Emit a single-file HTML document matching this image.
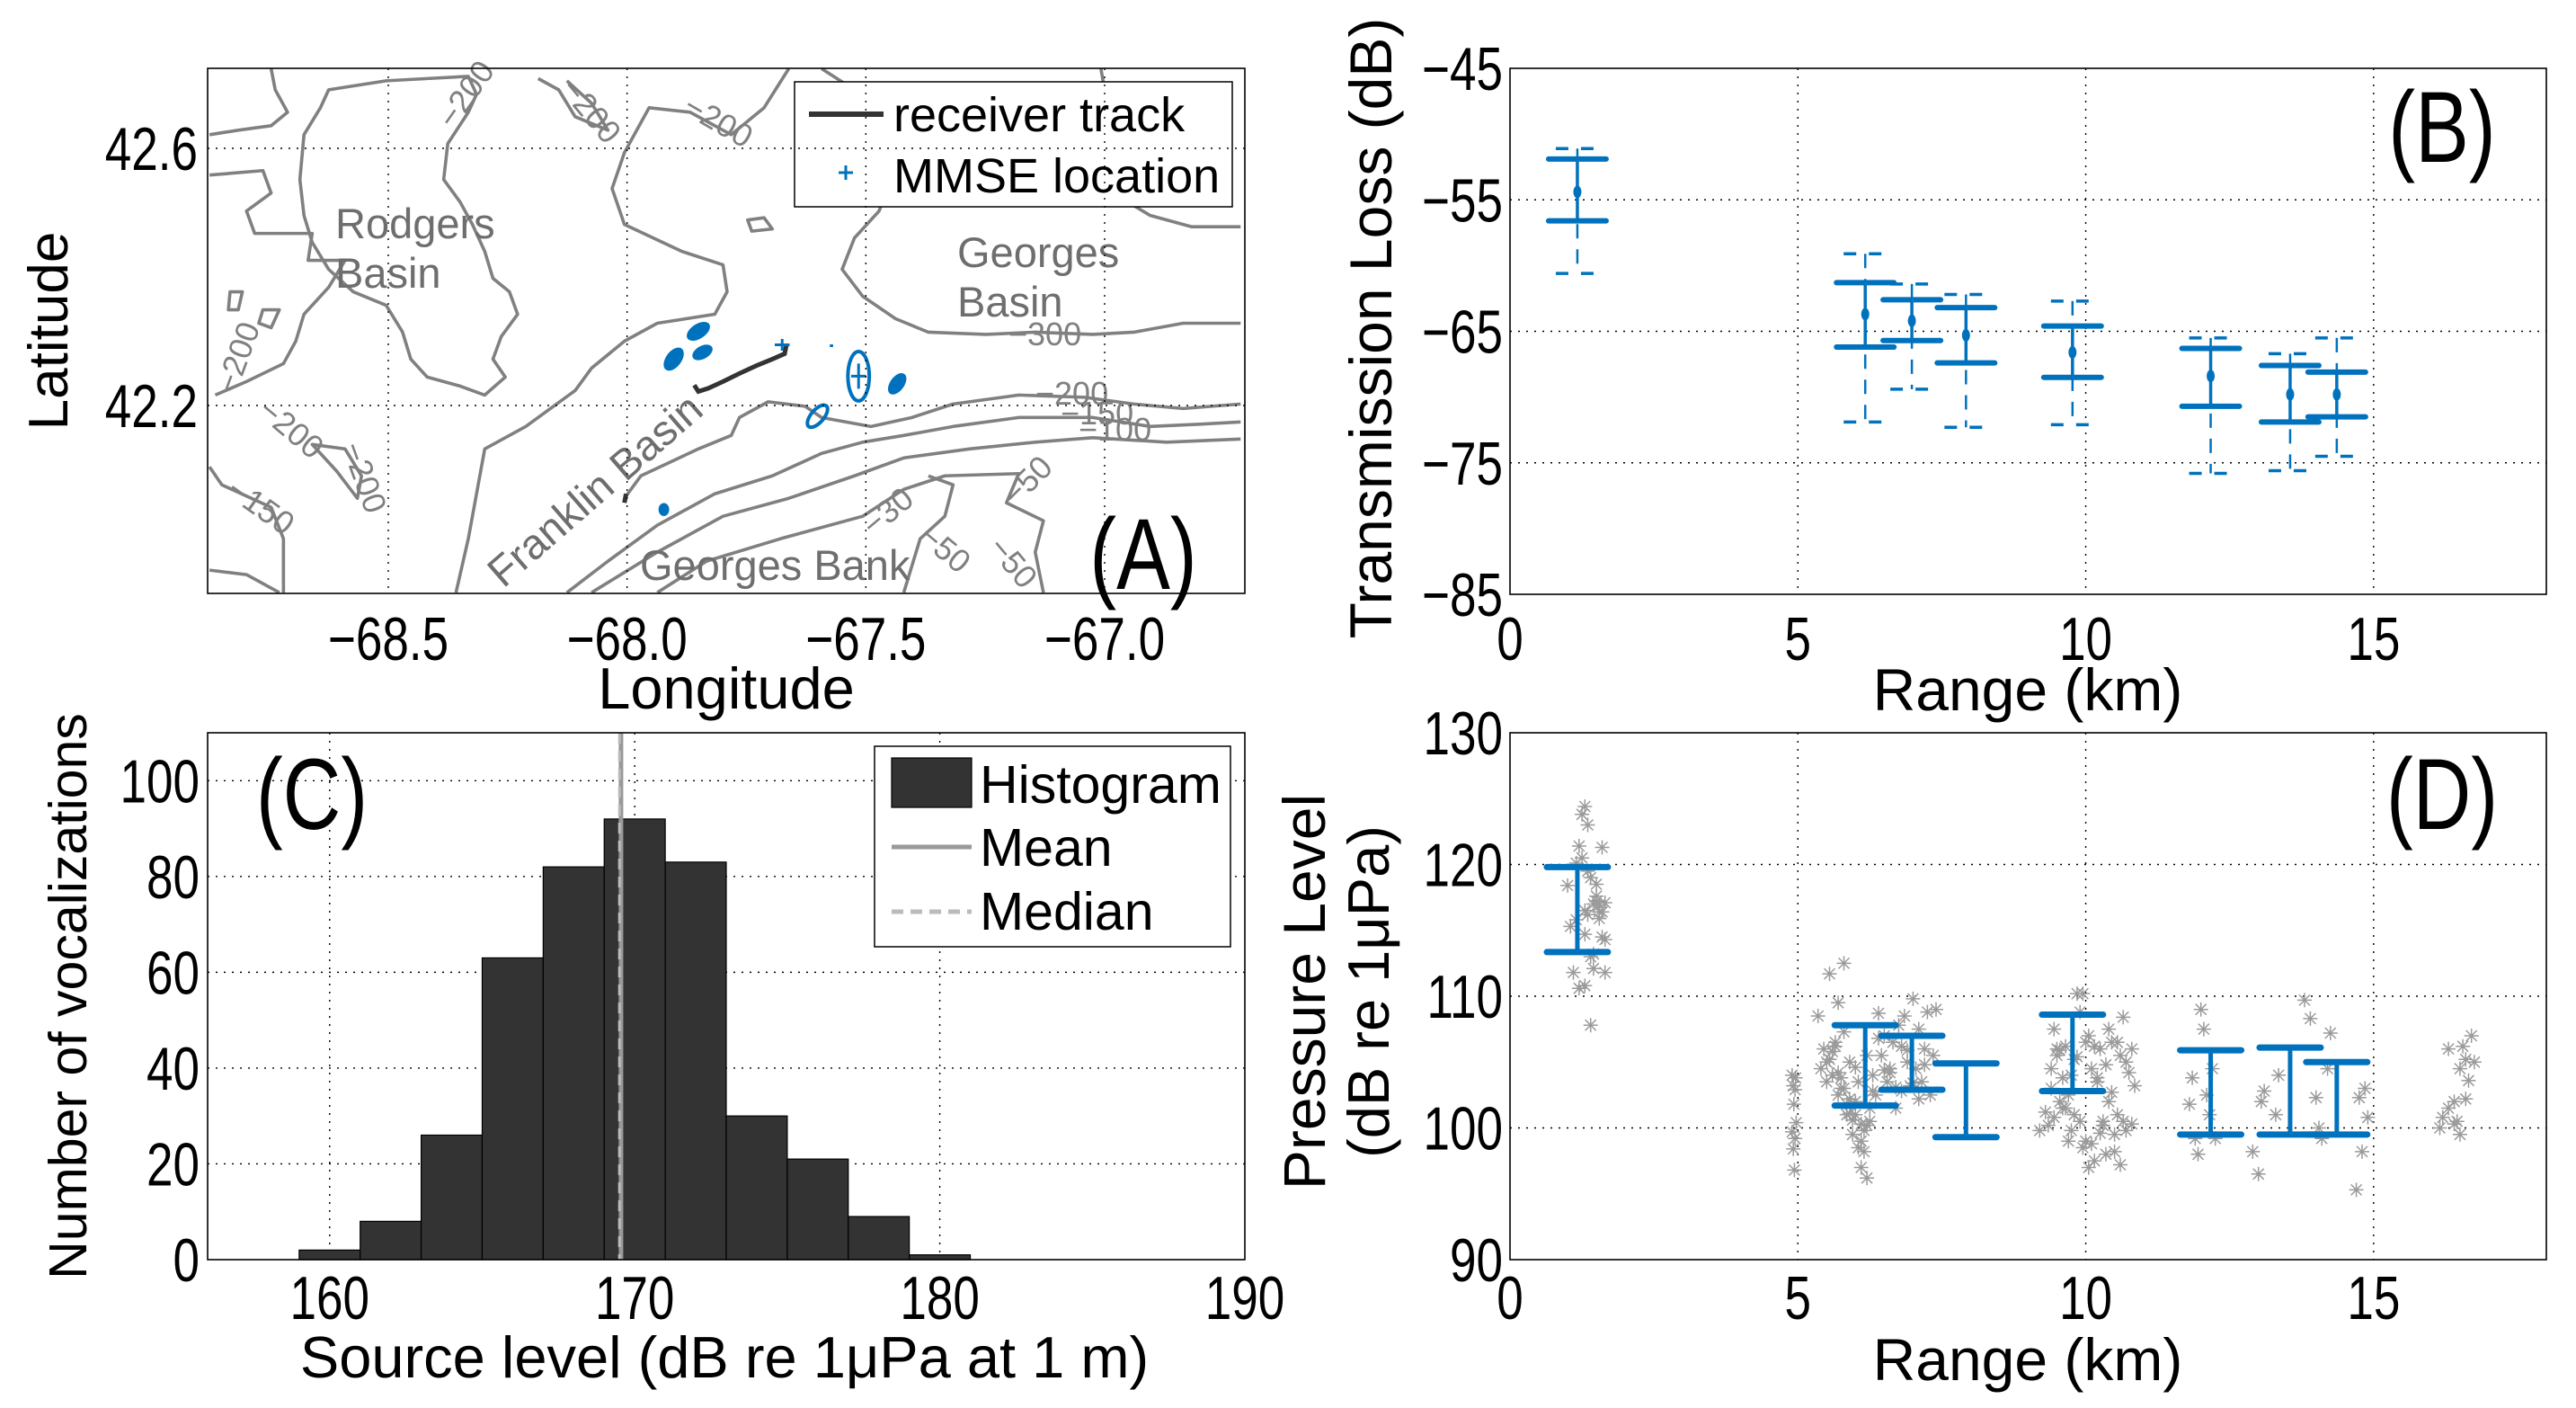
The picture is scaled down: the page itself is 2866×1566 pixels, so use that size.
<!DOCTYPE html>
<html><head><meta charset="utf-8"><title>Figure</title>
<style>html,body{margin:0;padding:0;background:#fff}svg{display:block}text{font-family:"Liberation Sans",sans-serif}</style>
</head><body>
<svg id="fig" xmlns="http://www.w3.org/2000/svg" width="2866" height="1566" viewBox="0 0 2866 1566">
<rect width="2866" height="1566" fill="#fff"/>
<g id="mapPanel">
 <g transform="scale(0.9141,0.4993)" fill="none" stroke="#808080" stroke-width="3.6" stroke-linejoin="round">
  <path vector-effect="non-scaling-stroke" d="M400,200 L470,180 L520,175 L570,170 L580,210 L570,250 L545,320 L540,400 L560,450 L575,500 L590,560 L600,620 L620,650 L630,700 L610,750 L600,800 L615,840 L590,880 L560,860 L520,840 L500,800 L490,740 L470,680 L430,650 L400,600 L380,540 L370,480 L365,400 L370,300 L390,240 Z"/>
  <path vector-effect="non-scaling-stroke" d="M255,390 L320,380 L330,430 L300,470 L310,520 L380,520 L375,580 L420,580 L400,640 L370,700 L360,760 L345,810 L300,850 L262,880"/>
  <path vector-effect="non-scaling-stroke" d="M255,300 L290,290 L330,280 L350,250 L335,200 L330,153"/>
  <path vector-effect="non-scaling-stroke" d="M960,153 L930,240 L890,300 L840,250 L790,240 L760,340 L745,420 L760,500 L830,560 L880,590 L885,650 L870,700 L800,720 L760,760 L720,820 L700,870 L640,950 L590,1000 L580,1100 L570,1200 L555,1320"/>
  <path vector-effect="non-scaling-stroke" d="M1000,153 L1040,200 L1060,280 L1080,350 L1080,420 L1070,470 L1040,530 L1025,600 L1050,660 L1090,710 L1130,740 L1200,745 L1260,740 L1330,745 L1380,740 L1440,720 L1510,720"/>
  <path vector-effect="non-scaling-stroke" d="M760,1110 L780,1060 L850,1000 L890,970 L900,930 L935,895 L980,905 L1000,930 L1030,940 L1060,950 L1110,930 L1160,900 L1240,880 L1320,885 L1380,900 L1440,910 L1510,900"/>
  <path vector-effect="non-scaling-stroke" d="M690,1320 L740,1250 L800,1170 L870,1100 L940,1060 L1000,1010 L1050,985 L1100,970 L1160,950 L1240,930 L1330,930 L1400,950 L1460,945 L1510,940"/>
  <path vector-effect="non-scaling-stroke" d="M720,1320 L800,1230 L880,1150 L960,1110 L1040,1060 L1100,1020 L1180,1000 L1260,985 L1330,975 L1420,985 L1510,978"/>
  <path vector-effect="non-scaling-stroke" d="M800,1320 L860,1250 L950,1200 L1050,1150 L1100,1090 L1150,1060 L1240,1055 L1225,1120 L1270,1160 L1260,1230 L1270,1320"/>
  <path vector-effect="non-scaling-stroke" d="M1130,1060 L1160,1080 L1150,1150 L1120,1200 L1110,1260 L1100,1320"/>
  <path vector-effect="non-scaling-stroke" d="M1340,153 L1350,260 L1380,320 L1500,340"/>
  <path vector-effect="non-scaling-stroke" d="M1345,420 L1400,480 L1450,505 L1510,505"/>
  <path vector-effect="non-scaling-stroke" d="M255,1040 L270,1080 L330,1130 L345,1200 L345,1320"/>
  <path vector-effect="non-scaling-stroke" d="M255,1270 L300,1280 L340,1320"/>
  <path vector-effect="non-scaling-stroke" d="M655,175 L680,200 L700,260 L740,290 L720,230 L690,180"/>
  <path vector-effect="non-scaling-stroke" d="M910,490 L930,485 L940,510 L915,515 Z"/>
  <path vector-effect="non-scaling-stroke" d="M280,650 L295,650 L290,690 L278,690 Z"/>
  <path vector-effect="non-scaling-stroke" d="M320,690 L340,690 L330,730 L315,720 Z"/>
  <path vector-effect="non-scaling-stroke" d="M380,990 L420,1000 L440,1060 L435,1110 L410,1050 Z"/>
 </g>
 <g fill="#808080" font-size="36">
  <text x="505" y="145" transform="rotate(-55 505 145)">−200</text>
  <text x="622" y="100" transform="rotate(50 622 100)">−200</text>
  <text x="758" y="125" transform="rotate(30 758 125)">−200</text>
  <text x="1122" y="384">−300</text>
  <text x="1152" y="450">−200</text>
  <text x="1180" y="472">−150</text>
  <text x="1200" y="490">−100</text>
  <text x="262" y="440" transform="rotate(-70 262 440)">−200</text>
  <text x="285" y="460" transform="rotate(40 285 460)">−200</text>
  <text x="380" y="497" transform="rotate(70 380 497)">−200</text>
  <text x="250" y="550" transform="rotate(35 250 550)">−150</text>
  <text x="1130" y="565" transform="rotate(-45 1130 565)">−50</text>
  <text x="972" y="598" transform="rotate(-40 972 598)">−30</text>
  <text x="1020" y="600" transform="rotate(40 1020 600)">−50</text>
  <text x="1098" y="610" transform="rotate(50 1098 610)">−50</text>
 </g>
 <g fill="#6e6e6e" font-size="47">
  <text x="373" y="265">Rodgers</text>
  <text x="373" y="320">Basin</text>
  <text x="1065" y="297">Georges</text>
  <text x="1065" y="352">Basin</text>
  <text x="712" y="645">Georges Bank</text>
  <text x="560" y="655" transform="rotate(-41 560 655)">Franklin Basin</text>
 </g>
 <g transform="scale(0.9141,0.4993)">
  <path vector-effect="non-scaling-stroke" d="M845,858 L850,872 L862,865 L880,850 L900,832 L920,815 L940,800 L955,788 L957,770" fill="none" stroke="#333" stroke-width="5"/>
  <path vector-effect="non-scaling-stroke" d="M762,1100 L760,1120" stroke="#333" stroke-width="5"/>
  <g fill="#0072BD" stroke="#0072BD">
   <ellipse cx="850" cy="738" rx="11" ry="22" transform="rotate(25 850 738)"/>
   <ellipse cx="820" cy="800" rx="10" ry="26" transform="rotate(15 820 800)"/>
   <ellipse cx="855" cy="785" rx="10" ry="18" transform="rotate(25 855 785)"/>
   <ellipse cx="1092" cy="855" rx="9" ry="24" transform="rotate(15 1092 855)"/>
   <ellipse cx="808" cy="1135" rx="6" ry="14"/>
   <ellipse cx="1045" cy="838" rx="13" ry="55" fill="none" stroke-width="4" vector-effect="non-scaling-stroke"/>
   <ellipse cx="995" cy="927" rx="9" ry="26" fill="none" stroke-width="4" vector-effect="non-scaling-stroke" transform="rotate(20 995 927)"/>
   <path d="M1036,838 h18 M1045,810 v56 M943,768 h18 M952,755 v26 M1010,770 h4" stroke-width="3" vector-effect="non-scaling-stroke" fill="none"/>
  </g>
 </g>
 <g>
  <rect x="884" y="91" width="487" height="139" fill="#fff" stroke="#000" stroke-width="1.5"/>
  <line x1="900" y1="127" x2="983" y2="127" stroke="#333" stroke-width="6"/>
  <text x="994" y="146" font-size="54">receiver track</text>
  <path d="M933,192 h16 M941,184 v16" stroke="#0072BD" stroke-width="3"/>
  <text x="994" y="214" font-size="54">MMSE location</text>
 </g>
</g>
<g id="plots"></g>
</svg>
<script>
// ---- Panel B data ----
var tlRange = [1.17, 6.17, 6.98, 7.92, 9.77, 12.17, 13.55, 14.36];
var tlMean = [-54.4, -63.7, -64.2, -65.3, -66.6, -68.4, -69.8, -69.8];
var tlSolidHi = [-51.9, -61.3, -62.6, -63.2, -64.6, -66.3, -67.6, -68.1];
var tlSolidLo = [-56.6, -66.2, -65.7, -67.4, -68.5, -70.7, -71.9, -71.5];
var tlDashHi = [-51.1, -59.1, -61.4, -62.2, -62.7, -65.5, -66.7, -65.5];
var tlDashLo = [-60.6, -71.9, -69.4, -72.3, -72.1, -75.8, -75.6, -74.5];
var bXTicks = [0, 5, 10, 15];
var bYTicks = [-45, -55, -65, -75, -85];
// ---- Panel C data ----
var binCenters = [160, 162, 164, 166, 168, 170, 172, 174, 176, 178, 180];
var binCounts = [2, 8, 26, 63, 82, 92, 83, 30, 21, 9, 1];
var meanSL = [169.55];
var medianSL = [169.5];
var cXTicks = [160, 170, 180, 190];
var cYTicks = [0, 20, 40, 60, 80, 100];
// ---- Panel D data ----
var plRange = [1.17, 6.17, 6.98, 7.92, 9.77, 12.17, 13.55, 14.36];
var plHi = [119.8, 107.8, 107.0, 104.9, 108.6, 105.9, 106.1, 105.0];
var plLo = [113.35, 101.7, 102.9, 99.3, 102.8, 99.5, 99.5, 99.5];
var ptRange = [1.0,1.05,1.1,1.15,1.2,1.25,1.3,1.35,1.4,1.45,1.5,1.55,1.6,1.65,1.3,1.35,1.4,1.45,1.5,1.55,1.6,1.65,1.25,1.3,1.2,1.4,1.5,1.6,1.35,1.15,1.45,1.55,1.65,1.3,
 4.9,4.92,4.95,4.93,4.97,4.9,4.95,4.92,4.94,4.96,
 5.35,5.4,5.45,5.5,5.55,5.6,5.65,5.7,5.75,5.8,5.85,5.9,5.95,6.0,6.05,6.1,6.15,6.2,6.25,6.3,6.35,6.4,6.45,6.5,6.55,6.6,6.65,6.7,6.75,6.8,6.85,6.9,6.95,7.0,7.05,7.1,7.15,7.2,7.25,7.3,7.35,7.4,
 5.5,5.6,5.7,5.8,5.9,6.0,6.1,6.2,6.3,5.65,5.75,5.85,5.95,6.05,6.15,6.25,5.55,5.8,6.0,6.2,6.4,6.6,6.8,7.0,7.2,7.1,6.9,6.7,6.5,5.7,5.9,6.1,
 9.2,9.3,9.35,9.4,9.45,9.5,9.55,9.6,9.65,9.7,9.75,9.8,9.85,9.9,9.95,10.0,10.05,10.1,10.15,10.2,10.25,10.3,10.35,10.4,10.45,10.5,10.55,10.6,10.65,10.7,10.75,10.8,10.85,
 9.4,9.5,9.6,9.7,9.8,9.9,10.0,10.1,10.2,10.3,10.4,10.5,10.6,10.7,9.45,9.55,9.65,9.75,9.85,9.95,10.05,10.15,10.25,10.35,10.45,10.55,10.65,10.8,
 11.8,11.85,11.9,11.95,12.0,12.05,12.1,12.15,12.2,12.25,12.9,13.0,13.05,13.1,13.3,13.35,13.8,13.9,14.0,14.05,14.1,14.2,14.25,14.7,14.75,14.8,14.85,14.9,
 16.15,16.2,16.3,16.4,16.45,16.5,16.55,16.6,16.65,16.7,16.75,16.6,16.5,16.4,16.3];
var ptLevel = [118.4,115.3,111.8,120.1,121.4,123.8,124.4,123,119,117,118.5,116.4,121.3,117.1,114.7,116.2,113,112.1,117.2,115.9,114.5,111.8,120.5,110.8,110.6,107.8,117.6,116.4,119.5,115.8,113.2,116.9,114.3,116.5,
 104,103.2,102.9,101.8,100.4,99.7,99.2,98.4,96.8,103.8,
 108.5,104.5,106,105,111.7,104,106.5,109.5,103,112.5,101,105,99.5,102,103.5,97,98.2,96.2,100.5,104,102.5,108.7,105.5,107,103.5,104.2,106.5,101.5,107.8,102.8,108.5,105,103.2,109.8,104.5,107.5,103.5,106,108.8,102.5,105.5,109,
 103.5,105.8,104.2,107.3,102.2,101,99,100.2,102.8,106.2,103.8,101.8,100.6,98.5,99.8,101.5,105.2,103,104.6,105.5,106.8,104.5,106.2,103.4,104.8,102.2,105.9,103.1,104.4,102.5,101.1,100.3,
 99.8,101.2,100.2,103,107.5,105.5,102,101.5,106.2,99,104,101,110.2,100.5,98.5,106.5,107,104.5,97.5,103.8,106,100.2,98,102,106.5,99.5,101,97.2,100.5,99.8,104.2,106,103.2,
 104.5,106,103.8,102.5,105.2,108.8,99,98.8,103.5,100.5,107.5,98.2,105.5,105,100.8,105.9,101.5,99.8,105.4,110.2,97,106.2,99.6,104.8,102.7,106.5,108.4,100.3,
 101.8,103.8,99.2,98,109,107.5,102.5,101,104.5,99.2,98.2,96.5,102,102.8,101,104,109.7,108.3,102.3,100,99.2,104.5,107.2,95.3,102.3,98.2,103,100.8,
 100,100.8,101.5,102,100.5,104.5,106.2,105.2,103.6,107,105,102.2,99.5,100.3,106];
var dXTicks = [0, 5, 10, 15];
var dYTicks = [90, 100, 110, 120, 130];
var aLonTicks = ['−68.5','−68.0','−67.5','−67.0'];
var aLonVals = [-68.5, -68.0, -67.5, -67.0];
var aLatTicks = ['42.6','42.2'];
var aLatVals = [42.6, 42.2];

var NS = 'http://www.w3.org/2000/svg';
var root = document.getElementById('plots');
var TICK = 68, TSX = 0.78;
function mk(tag, attrs, parent) {
  var el = document.createElementNS(NS, tag);
  for (var k in attrs) el.setAttribute(k, attrs[k]);
  (parent || root).appendChild(el);
  return el;
}
function lin(d0, d1, r0, r1) { return function (v) { return r0 + (v - d0) * (r1 - r0) / (d1 - d0); }; }
function condText(x, y, s, size, anchor, parent, sxs) {
  var t = mk('text', {x: 0, y: 0, 'font-size': size, 'text-anchor': anchor || 'middle',
    transform: 'translate(' + x + ' ' + y + ') scale(' + (sxs || TSX) + ' 1)'}, parent);
  t.textContent = s;
  return t;
}
function frame(g, L, T, R, B) {
  var f = mk('rect', {x: L, y: T, width: R - L, height: B - T, fill: 'none', stroke: '#000', 'stroke-width': 1.6}, g);
  
  
}
function gridV(g, x, T, B) {
  var l = mk('line', {x1: x, y1: T, x2: x, y2: B, stroke: '#000', 'stroke-width': 1.4, 'stroke-dasharray': '2 7'}, g);
  
  
}
function gridH(g, y, L, R) {
  var l = mk('line', {x1: L, y1: y, x2: R, y2: y, stroke: '#000', 'stroke-width': 1.4, 'stroke-dasharray': '2 7'}, g);
  
  
}

// ---------- Panel A axes ----------
(function () {
  var g = mk('g', {});
  
  
  var L = 231, R = 1385, T = 76, B = 660;
  var sx = lin(-68.5, -67.0, 432, 1229), sy = lin(42.6, 42.2, 165, 451);
  aLonVals.forEach(function (v, i) {
    gridV(g, sx(v), T, B);
    var t = condText(sx(v), 734, aLonTicks[i], TICK, 'middle', g);
    
    
  });
  aLatVals.forEach(function (v, i) {
    gridH(g, sy(v), L, R);
    var t = condText(220, sy(v) + 24, aLatTicks[i], TICK, 'end', g);
    
    
  });
  frame(g, L, T, R, B);
  var xl = mk('text', {x: 808, y: 788, 'font-size': 65, 'text-anchor': 'middle'}, g);
  xl.textContent = 'Longitude';
  
  
  var yl = mk('text', {x: 0, y: 0, 'font-size': 62, 'text-anchor': 'middle', transform: 'translate(75 368) rotate(-90)'}, g);
  yl.textContent = 'Latitude';
  
  
  var pl = condText(1272, 655, '(A)', 112, 'middle', g, 0.8);
  
  
})();

// ---------- Panel B ----------
(function () {
  var g = mk('g', {});
  
  
  var L = 1680, R = 2833, T = 76, B = 661;
  var sx = lin(0, 18, L, R), sy = lin(-45, -85, T, B);
  bXTicks.forEach(function (v) {
    if (v > 0) gridV(g, sx(v), T, B);
    var t = condText(sx(v), 734, String(v), TICK, 'middle', g);
    
    
  });
  bYTicks.forEach(function (v) {
    if (v !== -45 && v !== -85) gridH(g, sy(v), L, R);
    var t = condText(1672, sy(v) + 24, String(v).replace('-', '−'), TICK, 'end', g);
    
    
  });
  frame(g, L, T, R, B);
  var blue = '#0072BD';
  tlRange.forEach(function (r, i) {
    var x = sx(r), c = 32;
    var eg = mk('g', {}, g);
    
    
    mk('line', {x1: x, y1: sy(tlDashHi[i]), x2: x, y2: sy(tlDashLo[i]), stroke: blue, 'stroke-width': 2.5, 'stroke-dasharray': '16 12'}, eg);
    mk('line', {x1: x - 24, y1: sy(tlDashHi[i]), x2: x + 24, y2: sy(tlDashHi[i]), stroke: blue, 'stroke-width': 3.5, 'stroke-dasharray': '14 14'}, eg);
    mk('line', {x1: x - 24, y1: sy(tlDashLo[i]), x2: x + 24, y2: sy(tlDashLo[i]), stroke: blue, 'stroke-width': 3.5, 'stroke-dasharray': '14 14'}, eg);
    mk('line', {x1: x, y1: sy(tlSolidHi[i]), x2: x, y2: sy(tlSolidLo[i]), stroke: blue, 'stroke-width': 3.5}, eg);
    mk('line', {x1: x - c, y1: sy(tlSolidHi[i]), x2: x + c, y2: sy(tlSolidHi[i]), stroke: blue, 'stroke-width': 6, 'stroke-linecap': 'round'}, eg);
    mk('line', {x1: x - c, y1: sy(tlSolidLo[i]), x2: x + c, y2: sy(tlSolidLo[i]), stroke: blue, 'stroke-width': 6, 'stroke-linecap': 'round'}, eg);
    mk('ellipse', {cx: x, cy: sy(tlMean[i]), rx: 4.5, ry: 7, fill: blue}, eg);
  });
  var xl = mk('text', {x: 2256, y: 790, 'font-size': 66, 'text-anchor': 'middle'}, g);
  xl.textContent = 'Range (km)';
  
  
  var yl = mk('text', {x: 0, y: 0, 'font-size': 66, 'text-anchor': 'middle', transform: 'translate(1548 365) rotate(-90)'}, g);
  yl.textContent = 'Transmission Loss (dB)';
  
  
  var pl = condText(2717, 180, '(B)', 112, 'middle', g, 0.8);
  
  
})();

// ---------- Panel C ----------
(function () {
  var g = mk('g', {});
  
  
  var L = 231, R = 1385, T = 815, B = 1401;
  var sx = lin(156, 190, L, R), sy = lin(0, 110, B, T);
  cXTicks.forEach(function (v) {
    if (v < 190) gridV(g, sx(v), T, B);
    var t = condText(sx(v), 1467, String(v), TICK, 'middle', g);
    
    
  });
  cYTicks.forEach(function (v) {
    if (v > 0) gridH(g, sy(v), L, R);
    var t = condText(222, sy(v) + 24, String(v), TICK, 'end', g);
    
    
  });
  binCenters.forEach(function (c, i) {
    var b = mk('rect', {x: sx(c - 1), y: sy(binCounts[i]), width: sx(c + 1) - sx(c - 1), height: sy(0) - sy(binCounts[i]), fill: '#333', stroke: '#000', 'stroke-width': 1.2}, g);
    
    
  });
  var m = mk('line', {x1: sx(meanSL[0]), y1: T, x2: sx(meanSL[0]), y2: B, stroke: '#999', 'stroke-width': 5}, g);
  
  
  var md = mk('line', {x1: sx(medianSL[0]), y1: T, x2: sx(medianSL[0]), y2: B, stroke: '#bbb', 'stroke-width': 3, 'stroke-dasharray': '12 8'}, g);
  
  
  frame(g, L, T, R, B);
  var lg = mk('g', {}, g);
  
  
  mk('rect', {x: 973, y: 830, width: 396, height: 223, fill: '#fff', stroke: '#000', 'stroke-width': 1.5}, lg);
  mk('rect', {x: 992, y: 843, width: 89, height: 55, fill: '#333', stroke: '#000', 'stroke-width': 1.2}, lg);
  mk('line', {x1: 992, y1: 942, x2: 1081, y2: 942, stroke: '#999', 'stroke-width': 5}, lg);
  mk('line', {x1: 992, y1: 1014, x2: 1081, y2: 1014, stroke: '#bbb', 'stroke-width': 5, 'stroke-dasharray': '13 8'}, lg);
  ['Histogram', 'Mean', 'Median'].forEach(function (s, i) {
    var t = mk('text', {x: 0, y: 0, 'font-size': 59, transform: 'translate(1090 ' + [893, 963, 1034][i] + ')'}, lg);
    t.textContent = s;
    
    
  });
  var xl = mk('text', {x: 0, y: 0, 'font-size': 65, 'text-anchor': 'middle', transform: 'translate(806 1532)'}, g);
  xl.textContent = 'Source level (dB re 1μPa at 1 m)';
  
  
  var yl = mk('text', {x: 0, y: 0, 'font-size': 59, 'text-anchor': 'middle', transform: 'translate(96 1108) rotate(-90)'}, g);
  yl.textContent = 'Number of vocalizations';
  
  
  var pl = condText(347, 922, '(C)', 112, 'middle', g, 0.8);
  
  
})();

// ---------- Panel D ----------
(function () {
  var g = mk('g', {});
  
  
  var L = 1680, R = 2833, T = 815, B = 1401;
  var sx = lin(0, 18, L, R), sy = lin(90, 130, B, T);
  dXTicks.forEach(function (v) {
    if (v > 0) gridV(g, sx(v), T, B);
    var t = condText(sx(v), 1467, String(v), TICK, 'middle', g);
    
    
  });
  dYTicks.forEach(function (v) {
    if (v !== 90 && v !== 130) gridH(g, sy(v), L, R);
    var t = condText(1672, sy(v) + 24, String(v), TICK, 'end', g);
    
    
  });
  frame(g, L, T, R, B);
  var sg = mk('g', {stroke: '#9a9a9a', 'stroke-width': 1.5, fill: 'none'}, g);
  
  
  ptRange.forEach(function (r, i) {
    var p = mk('path', {d: 'M-8,0h16M0,-8v16M-6,-6l12,12M-6,6l12,-12', transform: 'translate(' + sx(r).toFixed(1) + ' ' + sy(ptLevel[i]).toFixed(1) + ')'}, sg);
    
    
  });
  var blue = '#0072BD';
  plRange.forEach(function (r, i) {
    var x = sx(r), c = 34;
    var eg = mk('g', {stroke: blue}, g);
    
    
    mk('line', {x1: x, y1: sy(plHi[i]), x2: x, y2: sy(plLo[i]), 'stroke-width': 5}, eg);
    mk('line', {x1: x - c, y1: sy(plHi[i]), x2: x + c, y2: sy(plHi[i]), 'stroke-width': 7, 'stroke-linecap': 'round'}, eg);
    mk('line', {x1: x - c, y1: sy(plLo[i]), x2: x + c, y2: sy(plLo[i]), 'stroke-width': 7, 'stroke-linecap': 'round'}, eg);
  });
  var xl = mk('text', {x: 2256, y: 1535, 'font-size': 66, 'text-anchor': 'middle'}, g);
  xl.textContent = 'Range (km)';
  
  
  var yl = mk('text', {x: 0, y: 0, 'font-size': 66, 'text-anchor': 'middle', transform: 'translate(1474 1103) rotate(-90)'}, g);
  yl.textContent = 'Pressure Level';
  
  
  var yl2 = mk('text', {x: 0, y: 0, 'font-size': 65, 'text-anchor': 'middle', transform: 'translate(1545 1103) rotate(-90)'}, g);
  yl2.textContent = '(dB re 1μPa)';
  
  
  var pl = condText(2717, 922, '(D)', 112, 'middle', g, 0.8);
  
  
})();
</script>
</body></html>
